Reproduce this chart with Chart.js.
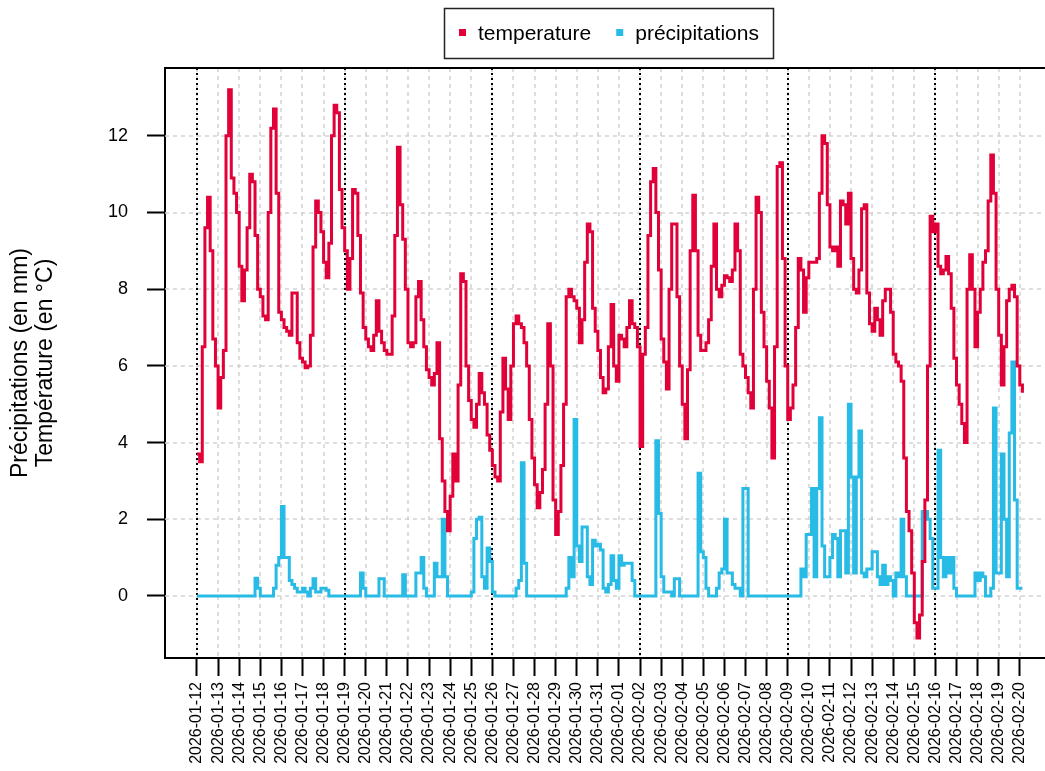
<!DOCTYPE html>
<html>
<head>
<meta charset="utf-8">
<script src="https://cdn.jsdelivr.net/npm/chart.js@4/dist/chart.umd.min.js"></script>
<style>
  html, body { margin: 0; padding: 0; background: #fff; }
  #wrap { width: 1045px; height: 771px; }
</style>
</head>
<body>
<div id="wrap"><canvas id="chart" width="1045" height="771"></canvas></div>
<script>
// one label per day
const days = [
  '2026-01-12', '2026-01-13', '2026-01-14', '2026-01-15', '2026-01-16', '2026-01-17', '2026-01-18',
  '2026-01-19', '2026-01-20', '2026-01-21', '2026-01-22', '2026-01-23', '2026-01-24', '2026-01-25',
  '2026-01-26', '2026-01-27', '2026-01-28', '2026-01-29', '2026-01-30', '2026-01-31', '2026-02-01',
  '2026-02-02', '2026-02-03', '2026-02-04', '2026-02-05', '2026-02-06', '2026-02-07', '2026-02-08',
  '2026-02-09', '2026-02-10', '2026-02-11', '2026-02-12', '2026-02-13', '2026-02-14', '2026-02-15',
  '2026-02-16', '2026-02-17', '2026-02-18', '2026-02-19', '2026-02-20'
];
const weekStarts = ['2026-01-12', '2026-01-19', '2026-01-26', '2026-02-02', '2026-02-09', '2026-02-16'];
const yTicks = [0, 2, 4, 6, 8, 10, 12];

// one value every 3 hours, from 2026-01-12 00:00
const stepHours = 3;
const temperature = [
  3.7, 3.5, 6.5, 9.6, 10.4, 9.0, 6.7, 6.0,
  4.9, 5.7, 6.4, 12.0, 13.2, 10.9, 10.5, 10.0,
  8.6, 7.7, 8.5, 9.6, 11.0, 10.8, 9.4, 8.0,
  7.8, 7.3, 7.2, 10.0, 12.2, 12.7, 10.5, 7.4,
  7.2, 7.0, 6.9, 6.8, 7.9, 7.9, 6.6, 6.2,
  6.1, 5.95, 6.0, 6.8, 9.1, 10.3, 10.0, 9.5,
  8.7, 8.3, 9.2, 12.0, 12.8, 12.6, 10.6, 9.6,
  9.0, 8.0, 8.8, 10.6, 10.5, 9.4, 7.9, 7.0,
  6.7, 6.5, 6.4, 6.8, 7.7, 6.9, 6.6, 6.4,
  6.3, 6.3, 7.3, 9.4, 11.7, 10.2, 9.3, 8.0,
  6.6, 6.5, 6.6, 7.8, 8.2, 7.2, 6.5, 5.9,
  5.7, 5.5, 5.8, 6.6, 4.1, 3.0, 2.2, 1.7,
  2.6, 3.7, 3.0, 5.5, 8.4, 8.2, 6.0, 5.1,
  4.6, 4.4, 5.0, 5.8, 5.3, 5.0, 4.2, 3.8,
  3.4, 3.1, 3.0, 4.8, 6.2, 5.4, 4.6, 6.0,
  7.1, 7.3, 7.1, 7.0, 6.6, 6.0, 4.6, 3.6,
  2.9, 2.3, 2.7, 3.3, 5.0, 7.1, 6.0, 2.5,
  1.6, 2.2, 3.4, 5.0, 7.8, 8.0, 7.8, 7.7,
  7.5, 6.6, 7.2, 8.7, 9.7, 9.5, 7.5, 6.9,
  6.4, 5.7, 5.3, 5.4, 6.5, 7.6, 6.0, 5.6,
  6.8, 6.7, 6.5, 7.0, 7.7, 7.1, 7.0, 6.5,
  3.9, 6.3, 7.0, 9.4, 10.8, 11.15, 10.0, 8.5,
  6.7, 6.1, 5.4, 8.0, 9.7, 9.7, 7.8, 6.0,
  5.0, 4.1, 5.9, 9.0, 10.45, 9.0, 6.8, 6.4,
  6.4, 6.6, 7.2, 8.6, 9.7, 8.0, 7.8, 8.1,
  8.35, 8.3, 8.2, 8.5, 9.7, 9.0, 6.3, 6.0,
  5.7, 5.3, 4.9, 8.0, 10.4, 10.0, 7.4, 6.5,
  5.6, 4.9, 3.6, 6.5, 11.2, 11.3, 8.8, 6.0,
  4.6, 4.9, 5.5, 7.0, 8.8, 8.5, 7.4, 8.3,
  8.7, 8.7, 8.7, 8.8, 10.5, 12.0, 11.8, 10.2,
  9.1, 9.0, 9.1, 8.6, 10.3, 10.2, 9.7, 10.5,
  8.8, 8.0, 7.9, 8.5, 10.1, 10.2, 7.9, 7.1,
  6.9, 7.5, 7.2, 6.8, 7.7, 8.0, 8.0, 7.4,
  6.3, 6.1, 6.0, 5.6, 3.6, 2.2, 1.7, 0.6,
  -0.7, -1.1, -0.5, 0.9, 2.5, 6.0, 9.9, 9.5,
  9.7, 8.6, 8.4, 8.5, 8.85, 8.4, 7.5, 6.2,
  5.5, 5.0, 4.5, 4.0, 8.0, 8.9, 8.0, 6.5,
  7.4, 8.0, 8.7, 9.0, 10.3, 11.5, 10.5, 8.0,
  6.8, 5.5, 6.5, 7.7, 8.0, 8.1, 7.8, 6.0,
  5.5, 5.3
];
const precipitations = [
  0, 0, 0, 0, 0, 0, 0, 0,
  0, 0, 0, 0, 0, 0, 0, 0,
  0, 0, 0, 0, 0, 0, 0.46, 0.2,
  0, 0, 0, 0, 0, 0.2, 0.8, 1.0,
  2.33, 1.0, 1.0, 0.4, 0.3, 0.2, 0.1, 0.1,
  0.2, 0.1, 0, 0.2, 0.45, 0.1, 0.1, 0.2,
  0.2, 0.15, 0, 0, 0, 0, 0, 0,
  0, 0, 0, 0, 0, 0, 0.6, 0.2,
  0, 0, 0, 0, 0, 0.45, 0.45, 0,
  0, 0, 0, 0, 0, 0, 0.55, 0,
  0, 0, 0, 0.6, 0.6, 1.0, 0.2, 0,
  0, 0, 0.85, 0.5, 0.5, 2.0, 0.5, 0,
  0, 0, 0, 0, 0, 0, 0, 0,
  0.1, 1.5, 2.0, 2.05, 0.5, 0.2, 1.25, 0.9,
  0.1, 0, 0, 0, 0, 0, 0, 0,
  0, 0.2, 0.4, 3.47, 0.85, 0, 0, 0,
  0, 0, 0, 0, 0, 0, 0, 0,
  0, 0, 0, 0, 0.2, 1.0, 0.5, 4.6,
  1.3, 0.9, 1.8, 1.8, 0.5, 0.3, 1.45, 1.3,
  1.35, 1.2, 0.2, 0.1, 0.3, 1.05, 0.4, 0.2,
  1.05, 0.8, 0.85, 0.85, 0.85, 0.4, 0, 0,
  0, 0, 0, 0, 0, 0, 4.05, 2.15,
  0.5, 0.1, 0.1, 0.1, 0, 0.45, 0.45, 0,
  0, 0, 0, 0, 0, 0, 3.2, 1.15,
  1.0, 0.2, 0, 0, 0, 0.2, 0.6, 0.7,
  2.0, 0.6, 0.6, 0.3, 0.2, 0.2, 0, 2.8,
  2.8, 0, 0, 0, 0, 0, 0, 0,
  0, 0, 0, 0, 0, 0, 0, 0,
  0, 0, 0, 0, 0, 0.7, 0.5, 1.6,
  1.6, 2.8, 0.5, 2.8, 4.65, 1.3, 0.5, 0.5,
  1.0, 1.6, 1.5, 0.5, 1.7, 1.7, 0.6, 5.0,
  3.1, 0.6, 3.1, 4.3, 0.6, 0.5, 0.7, 0.7,
  1.15, 1.15, 0.5, 0.3, 0.8, 0.3, 0.5, 0.4,
  0, 0.6, 0.5, 2.0, 0.5, 0, 0, 0,
  0, 0, 0, 2.2, 2.2, 2.0, 1.5, 0.2,
  0.2, 3.8, 1.0, 0.5, 1.0, 0.6, 1.0, 0.2,
  0, 0, 0, 0, 0, 0, 0, 0.6,
  0.4, 0.6, 0.5, 0, 0, 0.2, 4.9, 0.6,
  0.6, 3.7, 2.0, 0.5, 4.25, 6.1, 2.5, 0.2,
  0.2, 0.2
];

const FONT = '"Liberation Sans", Arial, sans-serif';
const RED = '#E10037';
const BLUE = '#27BBE6';

const toPoints = arr => arr.map((v, i) => ({ x: i * stepHours, y: v }));

// dashed grid + weekly dotted lines, legend, y title, top border
const decor = {
  id: 'decor',
  beforeDatasetsDraw(chart) {
    const { ctx, chartArea: a, scales: { x, y } } = chart;
    ctx.save();
    ctx.lineWidth = 1.5;
    ctx.strokeStyle = '#d2d2d2';
    ctx.setLineDash([4, 4]);
    days.forEach((d, i) => {
      const px = Math.round(x.getPixelForValue(i * 24));
      ctx.beginPath(); ctx.moveTo(px, a.top); ctx.lineTo(px, a.bottom); ctx.stroke();
    });
    yTicks.forEach(v => {
      const py = Math.round(y.getPixelForValue(v));
      ctx.beginPath(); ctx.moveTo(a.left, py); ctx.lineTo(a.right, py); ctx.stroke();
    });
    ctx.strokeStyle = '#000';
    ctx.lineWidth = 2;
    ctx.setLineDash([2, 3]);
    weekStarts.forEach(d => {
      const px = Math.round(x.getPixelForValue(days.indexOf(d) * 24));
      ctx.beginPath(); ctx.moveTo(px, a.top); ctx.lineTo(px, a.bottom); ctx.stroke();
    });
    ctx.restore();
  },
  afterDraw(chart) {
    const { ctx, chartArea: a } = chart;
    ctx.save();
    // box top
    ctx.strokeStyle = '#000';
    ctx.lineWidth = 2;
    ctx.beginPath(); ctx.moveTo(a.left - 1, a.top); ctx.lineTo(a.right, a.top); ctx.stroke();

    // legend
    ctx.lineWidth = 1.5;
    ctx.strokeStyle = '#222';
    ctx.strokeRect(444.5, 8.5, 329, 50);
    ctx.font = '21px ' + FONT;
    ctx.textBaseline = 'middle';
    ctx.textAlign = 'left';
    let cx = 444;
    chart.data.datasets.forEach(ds => {
      ctx.fillStyle = ds.borderColor;
      ctx.fillRect(cx + 15, 29, 7, 7);
      ctx.fillStyle = '#000';
      ctx.fillText(ds.label, cx + 34, 34);
      cx += 34 + ctx.measureText(ds.label).width + 10;
    });

    // y title, two lines
    ctx.font = '23px ' + FONT;
    ctx.textAlign = 'center';
    ctx.fillStyle = '#000';
    const midY = (a.top + a.bottom) / 2;
    [['Précipitations (en mm)', 21], ['Température (en °C)', 46]].forEach(([t, px]) => {
      ctx.save();
      ctx.translate(px, midY);
      ctx.rotate(-Math.PI / 2);
      ctx.fillText(t, 0, 0);
      ctx.restore();
    });
    ctx.restore();
  }
};

new Chart(document.getElementById('chart'), {
  type: 'line',
  data: {
    datasets: [
      {
        label: 'temperature',
        data: toPoints(temperature),
        borderColor: RED,
        backgroundColor: RED,
        borderWidth: 3,
        stepped: true,
        pointRadius: 0,
        fill: false
      },
      {
        label: 'précipitations',
        data: toPoints(precipitations),
        borderColor: BLUE,
        backgroundColor: BLUE,
        borderWidth: 3,
        stepped: true,
        pointRadius: 0,
        fill: false
      }
    ]
  },
  options: {
    responsive: false,
    animation: false,
    events: [],
    layout: { padding: { top: 68, left: 0, right: 0, bottom: 0 }, autoPadding: false },
    plugins: { legend: { display: false }, tooltip: { enabled: false } },
    scales: {
      x: {
        type: 'linear',
        min: -36.4,
        max: 964.6,
        afterBuildTicks: s => { s.ticks = days.map((d, i) => ({ value: i * 24 })); },
        afterFit: s => { s.height = 113; },
        ticks: {
          autoSkip: false,
          minRotation: 90,
          maxRotation: 90,
          padding: 6,
          color: '#000',
          font: { family: FONT, size: 16 },
          callback: v => days[Math.round(v / 24)]
        },
        grid: { drawOnChartArea: false, drawTicks: true, tickLength: 18, tickColor: '#000', tickWidth: 2 },
        border: { display: true, color: '#000', width: 2 }
      },
      y: {
        min: -1.62,
        max: 13.77,
        afterBuildTicks: s => { s.ticks = yTicks.map(v => ({ value: v })); },
        afterFit: s => { s.width = 165; },
        ticks: {
          padding: 19,
          color: '#000',
          font: { family: FONT, size: 18 },
          callback: v => String(v)
        },
        grid: { drawOnChartArea: false, drawTicks: true, tickLength: 18, tickColor: '#000', tickWidth: 2 },
        border: { display: true, color: '#000', width: 2 }
      }
    }
  },
  plugins: [decor]
});
</script>
</body>
</html>
